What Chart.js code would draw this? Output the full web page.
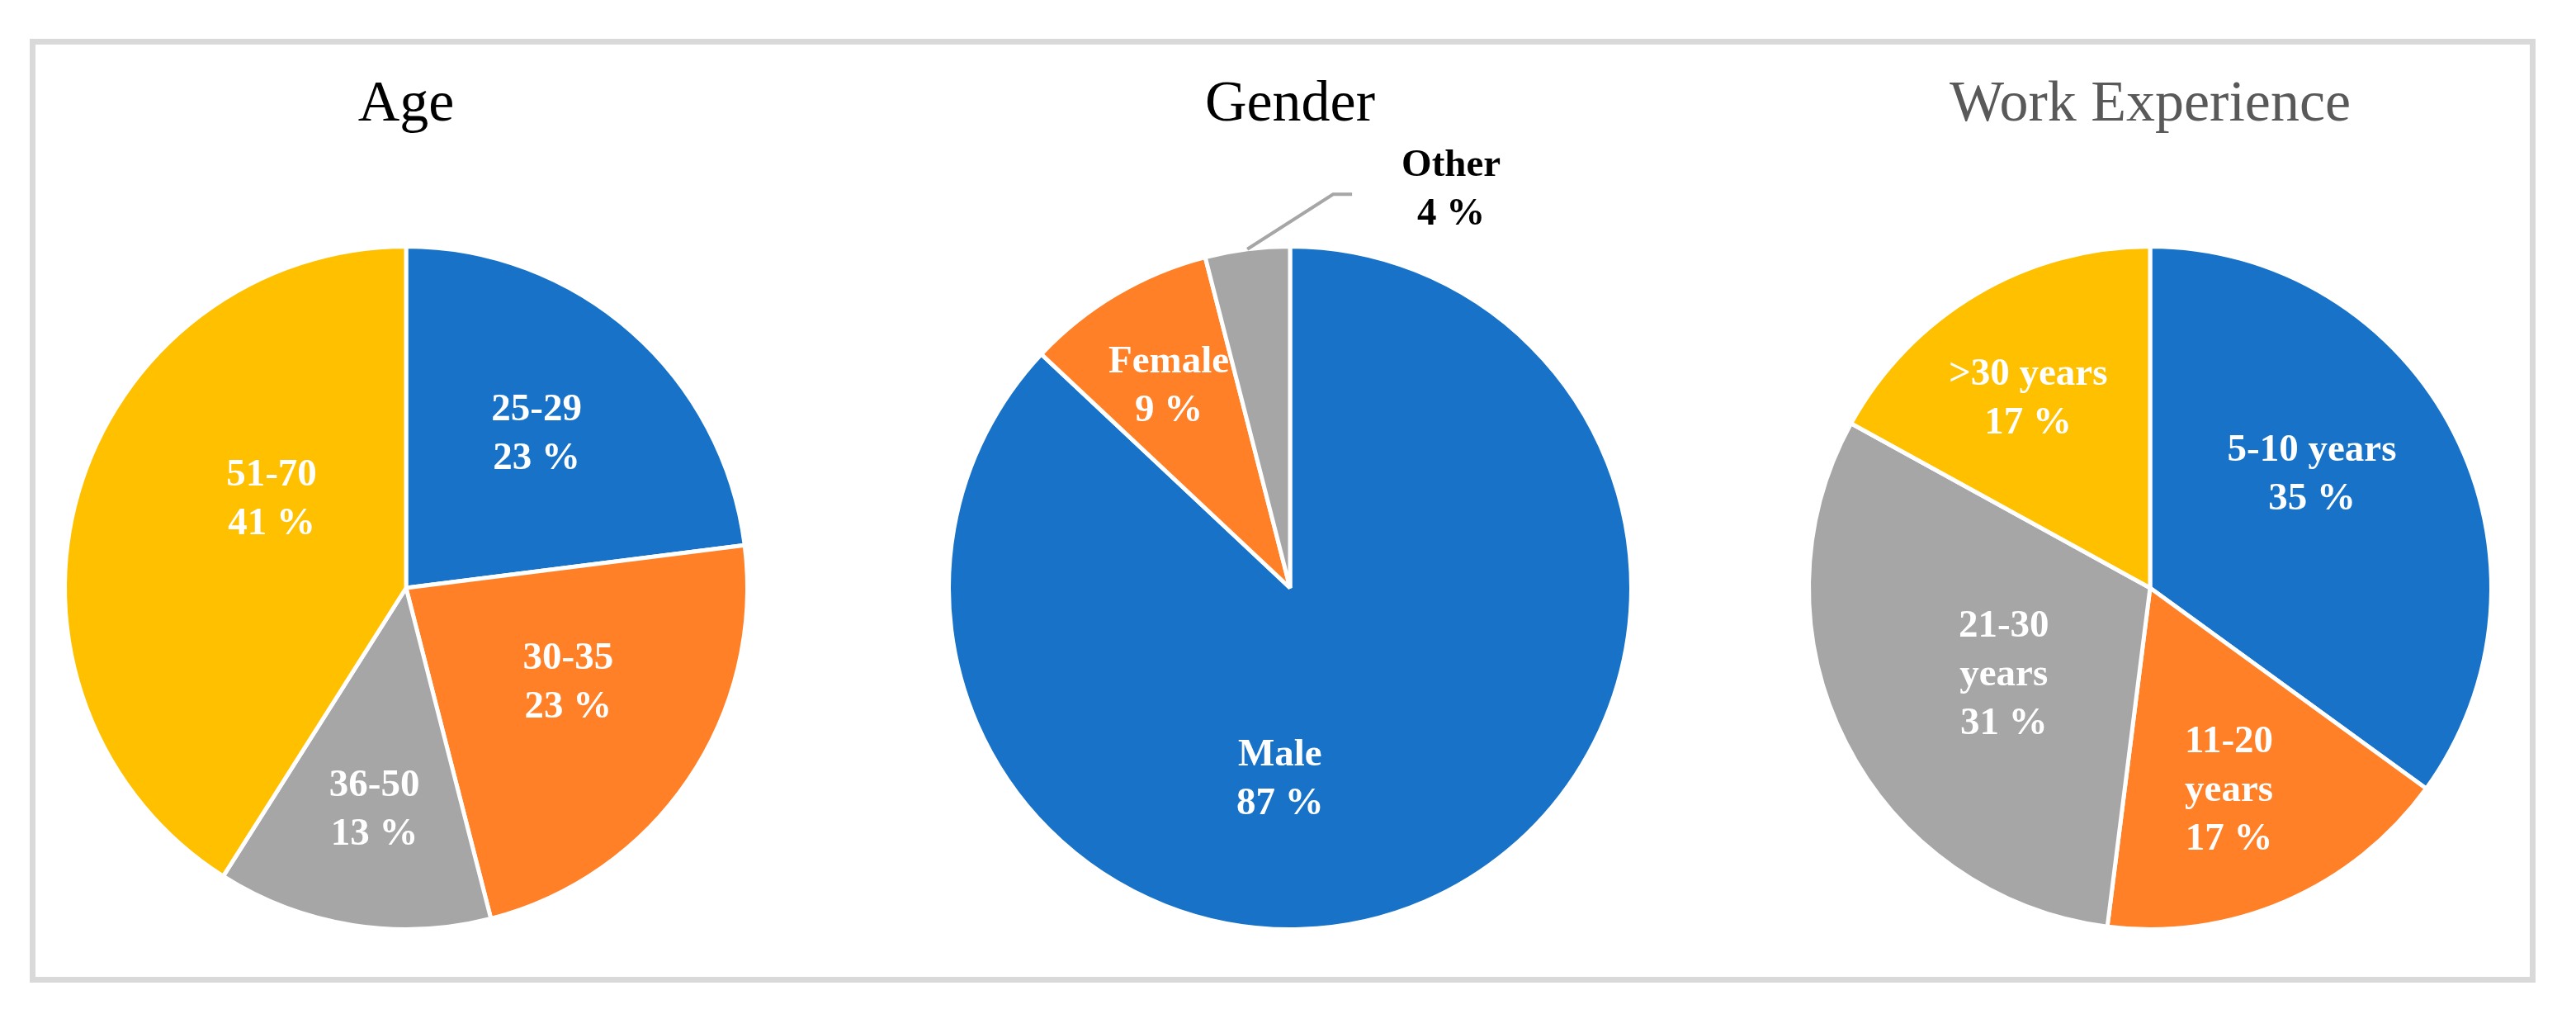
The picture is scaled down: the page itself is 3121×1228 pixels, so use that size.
<!DOCTYPE html>
<html><head><meta charset="utf-8">
<script src="https://cdn.jsdelivr.net/npm/chart.js@4.4.1/dist/chart.umd.min.js"></script>
<style>
html,body{margin:0;padding:0;background:#fff;}
body{width:3121px;height:1228px;position:relative;overflow:hidden;}
#frame{position:absolute;left:36px;top:47px;width:3036px;height:1143px;box-sizing:border-box;border:7px solid #d9d9d9;}
canvas{position:absolute;top:0;}
</style></head><body>
<div id="frame"></div>
<canvas id="age" width="960" height="1128" style="left:12px;width:960px;height:1128px"></canvas>
<canvas id="gender" width="960" height="1128" style="left:1083px;width:960px;height:1128px"></canvas>
<canvas id="work" width="960" height="1128" style="left:2125px;width:960px;height:1128px"></canvas>
<script>
// ---- data ----
const ageCategories = ['25-29', '30-35', '36-50', '51-70'];
const ageValues = [23, 23, 13, 41];
const genderCategories = ['Male', 'Female', 'Other'];
const genderValues = [87, 9, 4];
const workCategories = ['5-10 years', '11-20 years', '21-30 years', '>30 years'];
const workValues = [35, 17, 31, 17];
const workLabelLines = [['5-10 years'], ['11-20', 'years'], ['21-30', 'years'], ['>30 years']];
const sliceColors = ['#1873C8', '#FF8027', '#A6A6A6', '#FFC000'];

// ---- label plugin ----
const sliceLabels = {
  id: 'sliceLabels',
  afterDatasetsDraw(chart, args, opts) {
    const ctx = chart.ctx;
    const meta = chart.getDatasetMeta(0);
    const ds = chart.data.datasets[0];
    meta.data.forEach((arc, i) => {
      const p = arc.getProps(['x', 'y', 'startAngle', 'endAngle', 'outerRadius'], true);
      const [frac, shift] = opts.place[i];
      const mid = (p.startAngle + p.endAngle) / 2;
      const a = mid + shift * Math.PI / 180;
      const cx = p.x + Math.cos(a) * frac * p.outerRadius;
      const cy = p.y + Math.sin(a) * frac * p.outerRadius;
      const lines = [...opts.lines[i], ds.data[i] + ' %'];
      ctx.save();
      if (opts.leader && opts.leader[i]) {
        const sx = p.x + Math.cos(mid) * p.outerRadius;
        const sy = p.y + Math.sin(mid) * p.outerRadius;
        const ex = cx - 120, ey = cy + 5;
        ctx.strokeStyle = '#A6A6A6';
        ctx.lineWidth = 4;
        ctx.beginPath();
        ctx.moveTo(sx, sy);
        ctx.lineTo(ex - 23, ey);
        ctx.lineTo(ex, ey);
        ctx.stroke();
      }
      ctx.fillStyle = opts.colors[i];
      ctx.font = 'bold 47px "Liberation Serif", serif';
      ctx.textAlign = 'center';
      ctx.textBaseline = 'middle';
      lines.forEach((t, k) => ctx.fillText(t, cx, cy + (k - (lines.length - 1) / 2) * 59));
      ctx.restore();
    });
  }
};

function makePie(id, title, titleColor, labels, values, lines, place, colors, leader) {
  return new Chart(document.getElementById(id), {
    type: 'pie',
    data: {
      labels: labels,
      datasets: [{
        data: values,
        backgroundColor: sliceColors.slice(0, values.length),
        borderColor: '#ffffff',
        borderWidth: 5,
        hoverOffset: 0
      }]
    },
    options: {
      responsive: false,
      animation: false,
      devicePixelRatio: 1,
      events: [],
      layout: { padding: 0 },
      plugins: {
        legend: { display: false },
        tooltip: { enabled: false },
        title: {
          display: true,
          text: title,
          color: titleColor,
          font: { family: '"Liberation Serif", serif', size: 70, weight: 'normal', lineHeight: 1.2 },
          padding: { top: 86, bottom: 126 }
        },
        sliceLabels: { place: place, lines: lines, colors: colors, leader: leader }
      }
    },
    plugins: [sliceLabels]
  });
}

makePie('age', 'Age', '#000000', ageCategories, ageValues,
  ageCategories.map(c => [c]),
  [[0.589, -0.9], [0.551, -3.7], [0.659, -0.9], [0.471, 17]],
  ['#fff', '#fff', '#fff', '#fff'], null);

makePie('gender', 'Gender', '#000000', genderCategories, genderValues,
  genderCategories.map(c => [c]),
  [[0.563, 26.4], [0.688, -0.5], [1.257, 29.25]],
  ['#fff', '#fff', '#000'], [false, false, true]);

makePie('work', 'Work Experience', '#595959', workCategories, workValues,
  workLabelLines,
  [[0.578, -7.9], [0.639, 2.2], [0.499, -3.8], [0.658, -2.3]],
  ['#fff', '#fff', '#fff', '#fff'], null);
</script>
</body></html>
